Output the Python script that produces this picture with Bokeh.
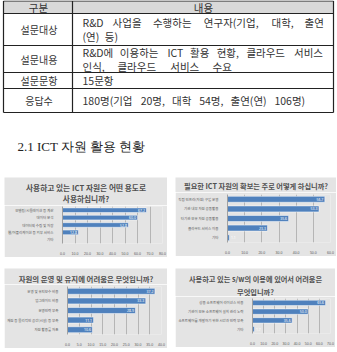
from bokeh.plotting import figure
from bokeh.layouts import column, row, Spacer
from bokeh.models import Range1d, FactorRange, FixedTicker, PrintfTickFormatter
from bokeh.embed import file_html
from bokeh.resources import INLINE
from bokeh.core.properties import value

# ---------------- data ----------------
table_header = ["구분", "내용"]
row_labels = ["설문대상", "설문내용", "설문문항", "응답수"]
row_line1 = ["R&D 사업을 수행하는 연구자(기업, 대학, 출연",
             "R&D에 이용하는 ICT 활용 현황, 클라우드 서비스",
             "15문항",
             "180명(기업 20명, 대학 54명, 출연(연) 106명)"]
row_line2 = ["(연) 등)", "인식, 클라우드 서비스 수요", "", ""]
section_heading = "2.1 ICT 자원 활용 현황"

c1_title = ["사용하고 있는 ICT 자원은 어떤 용도로", "사용하십니까?"]
c1_cats = ["모델링/시뮬레이션 등 계산", "데이터 분석", "데이터의 수집 및 저장",
           "웹/어플리케이션 등 외부 서비스", "기타"]
c1_vals = [67.2, 60.0, 52.8, 12.8, 0.0]
c1_ticks = [0, 10, 20, 30, 40, 50, 60, 70, 80]

c2_title = ["필요한 ICT 자원의 확보는 주로 어떻게 하십니까?"]
c2_cats = ["직접 인프라(자원) 구입 운영", "기관 내부 자원 공동활용", "타기관 보유 자원 공동활용",
           "클라우드 서비스 이용", "기타"]
c2_vals = [56.7, 53.3, 35.6, 23.3, 1.1]
c2_ticks = [0, 10, 20, 30, 40, 50, 60]

c3_title = ["자원의 운영 및 유지에 어려움은 무엇입니까?"]
c3_cats = ["운영 및 유지보수 비용", "업그레이드 비용", "운영인력 부족",
           "재원 등 물리적인 공간(시설) 등 부족", "자원 활용률 저조"]
c3_vals = [37.2, 33.3, 28.9, 11.1, 10.6]
c3_ticks = [0, 5, 10, 15, 20, 25, 30, 35, 40]

c4_title = ["사용하고 있는 s/w의 이용에 있어서 어려움은", "무엇입니까?"]
c4_cats = ["상용 소프트웨어 라이선스 비용", "기관이 모든 소프트웨어 설치 관리 노력",
           "소프트웨어를 개발하기 위한 시간과 인력 부족", "기타"]
c4_vals = [65.6, 50.0, 35.6, 1.7]
c4_ticks = [0, 10, 20, 30, 40, 50, 60, 70]

KFONT = "Noto Sans CJK KR"
BAR = "#4f81bd"
PANEL = "#e4e4e4"
GREY_TXT = "#595959"
TFS = 10.5

# ---------------- top: table + heading ----------------
top = figure(width=337, height=177, x_range=Range1d(0, 337), y_range=Range1d(177, 0),
             output_backend="svg", toolbar_location=None, min_border=0)
top.axis.visible = False
top.grid.visible = False
top.outline_line_color = None

T_L, T_R, T_C = 3, 333, 72
row_edges = [0.5, 13, 45, 72, 88, 112]
top.quad(left=[T_L], right=[T_R], top=[row_edges[0]], bottom=[row_edges[1]],
         fill_color="#d9d9d9", line_color=None)
top.segment(x0=[T_L] * len(row_edges), x1=[T_R] * len(row_edges),
            y0=row_edges, y1=row_edges, line_color="#222222", line_width=1)
top.segment(x0=[T_L, T_R, T_C], x1=[T_L, T_R, T_C],
            y0=[row_edges[0]] * 3, y1=[row_edges[-1]] * 3, line_color="#222222", line_width=1.2)

txt = dict(text_font=value(KFONT), text_font_size="%.1fpx" % TFS, text_color="#333333",
           text_baseline="middle")
top.text(x=[38, 203], y=[6.5, 6.5], text=table_header, text_align="center", **txt)
centers = [(row_edges[i + 1] + row_edges[i + 2]) / 2 for i in range(len(row_labels))]
top.text(x=[38.5] * len(row_labels), y=centers, text=row_labels, text_align="center",
         text_font=value(KFONT), text_font_size="10px", text_color="#333333",
         text_baseline="middle")


def char_w(ch):
    o = ord(ch)
    if 0xAC00 <= o <= 0xD7A3:
        return 1.0
    if ch.isdigit():
        return 0.553
    if ch in "(),.":
        return 0.3
    if ch == "&":
        return 0.7
    if ch == "I":
        return 0.3
    if ch.isupper():
        return 0.66
    return 0.5


def word_w(w):
    return sum(char_w(c) for c in w) * TFS


# right ends of each content line in the reference (justified text)
line1_end = [325, 325, 112, 305]
line2_end = [118, 233, 0, 0]
wx, wy, wt = [], [], []
for i, c in enumerate(centers):
    for line, end, yy in ((row_line1[i], line1_end[i], c - 7 if row_line2[i] else c),
                          (row_line2[i], line2_end[i], c + 7)):
        if not line:
            continue
        words = line.split(" ")
        widths = [word_w(w) for w in words]
        gap = (end - 82 - sum(widths)) / (len(words) - 1) if len(words) > 1 else 0
        x = 82
        for w, ww in zip(words, widths):
            wx.append(x)
            wy.append(yy)
            wt.append(w)
            x += ww + gap
top.text(x=wx, y=wy, text=wt, text_align="left", **txt)

top.text(x=[17], y=[146], text=[section_heading], text_align="left", text_baseline="middle",
         text_font=value("Liberation Serif"), text_font_size="13px", text_color="#222222")


# ---------------- charts ----------------
def make_title(lines, w, h, ys, fs):
    t = figure(width=w, height=h, x_range=Range1d(0, w), y_range=Range1d(h, 0),
               output_backend="svg", toolbar_location=None, min_border=0)
    t.axis.visible = False
    t.grid.visible = False
    t.outline_line_color = None
    t.border_fill_color = PANEL
    t.background_fill_color = PANEL
    t.text(x=[w / 2] * len(lines), y=ys, text=lines, text_align="center", text_baseline="middle",
           text_font=value(KFONT), text_font_size=fs, text_font_style="bold", text_color="#505050")
    return t


def make_chart(cats, vals, ticks, w, h, left, right, top_b, bottom):
    p = figure(width=w, height=h, output_backend="svg", toolbar_location=None,
               x_range=Range1d(0, ticks[-1]), y_range=FactorRange(factors=list(reversed(cats))),
               min_border_left=left, min_border_right=right, min_border_top=top_b,
               min_border_bottom=bottom)
    p.border_fill_color = PANEL
    p.background_fill_color = PANEL
    p.outline_line_color = None
    p.y_range.range_padding = 0
    p.hbar(y=cats, right=vals, height=0.62, fill_color=BAR, line_color="white", line_width=0.5)
    labels = ["%.1f" % v if v > 0 else "" for v in vals]
    big = [v >= 5 for v in vals]
    p.text(x=[v for v, b in zip(vals, big) if b], y=[c for c, b in zip(cats, big) if b],
           text=[l for l, b in zip(labels, big) if b], text_align="right", x_offset=-1.5,
           text_baseline="middle", text_color="white", text_font_size="3.5px",
           text_font=value("Noto Sans"))
    small = [not b for b in big]
    p.text(x=[v for v, s in zip(vals, small) if s], y=[c for c, s in zip(cats, small) if s],
           text=[l for l, s in zip(labels, small) if s], text_align="left", x_offset=1.5,
           text_baseline="middle", text_color="white", text_font_size="3.5px",
           text_font=value("Noto Sans"))
    p.xaxis.ticker = FixedTicker(ticks=ticks)
    p.xaxis.formatter = PrintfTickFormatter(format="%.1f")
    p.xaxis.axis_line_color = None
    p.xaxis.major_tick_line_color = None
    p.xaxis.minor_tick_line_color = None
    p.xaxis.major_label_text_font_size = "3.5px"
    p.xaxis.major_label_text_color = GREY_TXT
    p.xaxis.major_label_standoff = 2
    p.yaxis.axis_line_color = "#a0a0a0"
    p.yaxis.major_tick_line_color = None
    p.yaxis.minor_tick_line_color = None
    p.yaxis.major_label_text_font_size = "3.5px"
    p.yaxis.major_label_text_font = KFONT
    p.yaxis.major_label_text_color = GREY_TXT
    p.yaxis.major_label_standoff = 3
    p.xgrid.ticker = FixedTicker(ticks=ticks)
    p.xgrid.grid_line_color = "#b5b5b5"
    p.ygrid.grid_line_color = None
    return p


def panel(t, c):
    # wrap each figure in its own box so that sibling plot frames are not aligned
    return column(row(t), row(c))


t1 = make_title(c1_title, 163, 28, [10, 21], "7.7px")
c1 = make_chart(c1_cats, c1_vals, c1_ticks, 163, 52, 49, 5, 1, 9)
t2 = make_title(c2_title, 161, 15, [8], "7.2px")
c2 = make_chart(c2_cats, c2_vals, c2_ticks, 161, 64, 46, 6, 2, 11)
t3 = make_title(c3_title, 163, 16, [10], "7.4px")
c3 = make_chart(c3_cats, c3_vals, c3_ticks, 163, 64, 54, 6, 2, 8)
t4 = make_title(c4_title, 160, 28, [10, 23], "7.2px")
c4 = make_chart(c4_cats, c4_vals, c4_ticks, 160, 51, 72, 5, 2, 7)

layout = column(
    top,
    row(Spacer(width=4, height=80), panel(t1, c1), Spacer(width=8, height=80), panel(t2, c2)),
    Spacer(width=337, height=11),
    row(Spacer(width=4, height=80), panel(t3, c3), Spacer(width=8, height=80), panel(t4, c4)),
)

open("out.html", "w").write(file_html(layout, INLINE))
